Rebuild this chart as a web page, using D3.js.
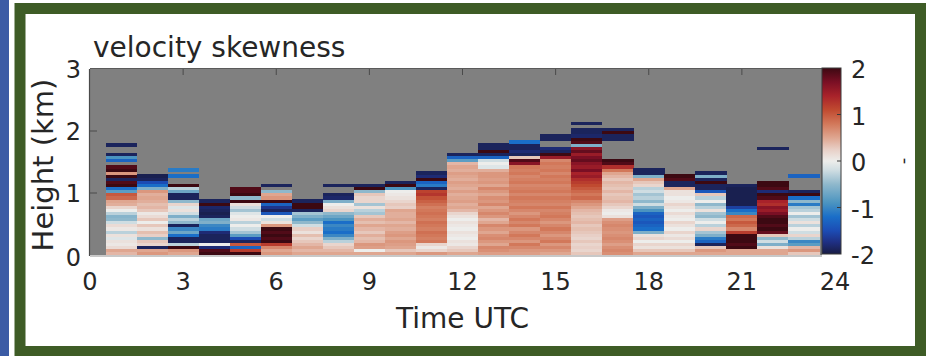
<!DOCTYPE html>
<html><head><meta charset="utf-8">
<script src="https://cdn.jsdelivr.net/npm/d3@7"></script>
<style>
html,body{margin:0;padding:0;background:#fff;}
svg{display:block;}
text{font-family:"DejaVu Sans",sans-serif;fill:#262626;}
</style></head>
<body>
<svg id="chart" width="926" height="356"></svg>
<script>
// ---- DATA ----
const title = "velocity skewness";
const xLabel = "Time UTC";
const yLabel = "Height (km)";
const xTicks = [0, 3, 6, 9, 12, 15, 18, 21, 24];
const yTicks = [0, 1, 2, 3];
const cbTicks = [-2, -1, 0, 1, 2];
const binKm = 0.05;            // height gate (km)
const hours = [1,2,3,4,5,6,7,8,9,10,11,12,13,14,15,16,17,18,19,20,21,22,23];
const _ = null;                // no data (gray)
// skewness per height gate, from the ground upward
const h01 = [0.4,0.5,0.15,0.05,0.1,-0.1,0.1,-0.3,0.05,0.15,-0.2,-0.5,-0.55,-0.3,0.0,0.2,0.45,0.5,0.9,1.0,-0.8,-1.2,2.0,1.9,-1.9,2.0,0.6,2.0,1.9,_,-1.3,-0.9,-1.9,_,_,-1.9];
const h02 = [0.6,0.5,-1.9,0.2,0.3,-0.5,0.25,0.35,0.1,0.3,0.0,0.3,0.15,0.05,0.3,0.4,0.35,0.45,0.5,0.45,0.6,-0.6,-1.2,-1.5,-1.9,-1.95];
const h03 = [0.5,0.6,2.0,-0.3,-1.9,-1.9,-1.2,-0.7,-1.0,-1.9,-0.5,-0.3,-0.6,-0.2,0.1,-0.1,0.2,-0.5,-1.9,-1.9,-0.7,-0.3,2.0,_,_,-1.2,_,-1.1];
const h04 = [2.0,1.9,-1.8,0.0,-1.9,-1.9,-1.9,-1.8,-1.1,-1.0,-0.6,-0.7,-1.9,-1.95,-1.9,-1.85,2.0,-1.9];
const h05 = [2.0,1.2,-1.3,1.0,-1.9,-1.5,-0.8,-0.4,-0.2,0.0,-0.3,0.05,0.0,-0.1,-0.4,-0.2,0.1,2.0,-0.5,2.0,1.9,1.9];
const h06 = [0.6,0.5,0.7,1.2,2.0,1.9,2.0,1.9,2.0,0.6,0.1,-0.2,0.0,-1.4,-1.9,-1.7,-1.3,2.0,0.6,0.5,-0.5,_,-1.9];
const h07 = [0.5,0.4,0.5,0.4,0.3,0.2,0.35,0.1,0.25,-0.2,-0.5,-0.8,-0.6,-0.4,-1.9,2.0,2.0,-1.9];
const h08 = [0.5,0.4,0.3,0.2,-0.3,-0.6,-1.0,-1.2,-1.1,-1.0,-1.2,-0.9,-0.7,-0.5,0.2,0.1,0.0,-0.6,-1.85,-1.9,_,_,-1.9];
const h09 = [0.5,0.0,0.55,0.6,0.4,0.35,0.45,0.3,0.4,0.5,0.35,0.45,0.3,-0.4,-0.3,0.1,-0.4,0.2,0.2,0.3,-0.5,2.0,-1.9];
const h10 = [0.5,0.3,0.5,0.55,0.6,0.5,0.6,0.55,0.45,0.5,0.4,0.5,0.45,0.45,0.5,0.25,0.3,0.2,0.1,0.05,0.0,-0.9,2.0,-1.9];
const h11 = [0.6,0.2,0.05,0.2,0.8,0.75,0.8,0.85,0.75,0.8,0.85,0.75,0.8,0.85,0.8,0.75,0.85,0.95,1.05,1.25,1.15,-1.9,-1.1,-1.3,2.0,-1.8,-1.9];
const h12 = [0.5,0.3,0.2,0.05,0.1,0.0,0.05,0.1,0.0,0.05,0.1,0.0,0.1,0.2,0.4,0.5,0.45,0.55,0.5,0.45,0.55,0.45,0.5,0.55,0.45,0.5,0.55,0.45,0.5,0.4,-0.8,-1.3,-1.9];
const h13 = [0.55,0.65,0.7,0.5,0.6,0.7,0.65,0.5,0.6,0.7,0.5,0.4,0.6,0.7,0.6,0.5,0.7,0.6,0.65,0.5,0.6,0.7,0.5,0.6,0.55,0.6,0.6,0.45,-0.1,0.0,-0.2,-1.3,-1.9,2.0,-1.9,-1.9];
const h14 = [0.55,0.6,0.7,0.8,0.6,0.7,0.8,0.7,0.6,0.8,0.7,0.8,0.7,0.6,0.7,0.8,0.7,0.75,0.8,0.7,0.8,0.75,0.7,0.8,0.75,0.7,0.8,0.75,0.8,1.6,1.9,0.3,-1.9,-1.8,-1.9,-1.9,-1.2];
const h15 = [0.5,0.6,0.7,0.6,0.8,0.7,0.6,0.7,0.8,0.7,0.6,0.7,0.8,0.75,0.7,0.8,0.7,0.75,0.8,0.7,0.8,0.75,0.7,0.8,0.75,0.8,0.7,0.8,0.75,0.8,0.7,1.5,2.0,-1.9,-1.8,_,_,-1.9,-1.9];
const h16 = [0.3,0.2,0.25,0.2,0.3,0.2,0.25,0.3,0.35,0.3,0.4,0.35,0.3,0.35,0.4,0.5,0.6,0.7,0.9,0.8,0.9,1.0,1.1,1.2,1.3,1.5,1.4,1.7,1.5,1.6,1.8,1.7,1.5,1.8,1.6,-0.6,1.9,2.0,-1.85,-1.9,-1.9,_,-1.9];
const h17 = [0.65,0.7,0.65,0.55,0.65,0.7,0.65,0.6,0.65,0.7,0.65,0.55,0.1,0.0,0.05,0.2,0.3,0.4,0.35,0.3,0.4,0.3,0.35,0.4,0.3,0.4,0.5,0.8,1.3,1.9,2.0,_,_,_,_,_,_,-1.9,-1.9,2.0,-1.9];
const h18 = [0.5,0.3,0.1,0.2,0.0,0.2,0.1,-0.6,-1.2,-1.3,-1.4,-1.3,-1.4,-1.3,-0.9,-0.6,-0.2,-0.5,-0.3,-0.4,-0.2,-0.3,0.2,0.3,0.5,-0.6,-1.9,-1.9];
const h19 = [0.5,0.3,0.1,0.2,0.0,0.15,0.05,0.2,0.0,0.1,0.2,0.0,0.05,0.15,0.0,0.1,0.2,0.05,0.0,0.1,0.1,0.5,-1.9,-1.9,1.9,2.0];
const h20 = [0.5,0.6,0.3,-1.9,-1.3,-1.1,-0.6,-0.4,0.2,-0.3,0.0,-0.2,-0.5,-0.4,0.1,-0.3,-0.5,0.0,-0.3,0.3,-1.4,-1.9,-1.9,2.0,-1.9,-0.6,-1.9];
const h21 = [0.5,0.5,2.0,1.9,2.0,2.0,2.0,1.2,0.7,0.9,1.0,0.8,0.9,-1.0,-1.2,-1.6,-1.95,-1.95,-1.95,-1.95,-1.95,-1.95,-1.9];
const h22 = [0.5,0.5,0.1,-0.6,-0.2,-0.5,0.3,1.8,2.0,1.9,2.0,2.0,1.9,1.7,1.5,1.6,1.3,1.4,1.9,2.0,-1.8,1.9,2.0,2.0,_,_,_,_,_,_,_,_,_,_,-1.9];
const h23 = [0.3,0.6,0.4,-0.8,-1.0,-0.3,0.2,-0.2,0.0,-0.3,0.1,-0.2,-0.4,0.0,-0.3,-0.4,-1.1,-0.5,-1.2,2.0,-1.9,_,_,_,_,-1.3];
const columns = [h01,h02,h03,h04,h05,h06,h07,h08,h09,h10,h11,h12,h13,h14,h15,h16,h17,h18,h19,h20,h21,h22,h23];

// ---- COLORMAP (diverging, balance-like) ----
const cmapStops  = [-2.0,-1.75,-1.5,-1.2,-0.9,-0.5,-0.2,0.0,0.25,0.5,0.8,1.1,1.4,1.7,2.0];
const cmapColors = ["#181c43","#1f2f82","#1c4cb4","#1a6ec8","#4b94c0","#8fb8cc","#cfdde2","#ededeb","#e8cfc6","#dfa690","#d2785a","#c04a30","#a8222a","#7a0f24","#3c0912"];
const color = d3.scaleLinear().domain(cmapStops).range(cmapColors).clamp(true);

// ---- LAYOUT ----
const svg = d3.select("#chart");
const W = 926, H = 356;
const plot = {left: 90, right: 835, top: 69, bottom: 255};
const cb = {left: 822, right: 841, top: 68, bottom: 254};

// frame
svg.append("rect").attr("x",0).attr("y",0).attr("width",9).attr("height",H).attr("fill","#3b5ba5");
svg.append("rect").attr("x",20).attr("y",8.5).attr("width",W-25.5).attr("height",H-13)
  .attr("fill","#fff").attr("stroke","#3e5c26").attr("stroke-width",11);

const x = d3.scaleLinear().domain([0,24]).range([plot.left, plot.right]);
const y = d3.scaleLinear().domain([0,3]).range([plot.bottom, plot.top]);

// gray axes background
svg.append("rect").attr("x",plot.left).attr("y",plot.top)
  .attr("width",cb.left - plot.left).attr("height",plot.bottom-plot.top)
  .attr("fill","#808080");

// cells
const cells = [];
columns.forEach((col, ci) => {
  col.forEach((v, bi) => {
    if (v === null) return;
    cells.push({h: hours[ci], z0: bi*binKm, z1: (bi+1)*binKm, v});
  });
});
svg.append("g").selectAll("rect").data(cells).join("rect")
  .attr("x", d => x(d.h-0.5))
  .attr("width", d => x(d.h+0.5) - x(d.h-0.5) + 0.3)
  .attr("y", d => y(d.z1))
  .attr("height", d => y(d.z0) - y(d.z1) + 0.3)
  .attr("fill", d => color(d.v))
  .attr("shape-rendering","crispEdges");

// axes
const fs = 24;
const ax = svg.append("g");
// top border with inward ticks
ax.append("line").attr("x1",plot.left).attr("x2",cb.left).attr("y1",plot.top-0.5).attr("y2",plot.top-0.5)
  .attr("stroke","#5a5a5a").attr("stroke-width",1);
ax.append("g").selectAll("line").data(xTicks.filter(t=>x(t)<cb.left-2 && t>0)).join("line")
  .attr("x1",d=>x(d)).attr("x2",d=>x(d)).attr("y1",plot.top).attr("y2",plot.top+6)
  .attr("stroke","#4a4a4a").attr("stroke-width",1);
// left border with inward ticks
ax.append("line").attr("x1",plot.left-0.5).attr("x2",plot.left-0.5).attr("y1",plot.top).attr("y2",plot.bottom+1)
  .attr("stroke","#4a4a4a").attr("stroke-width",1.2);
ax.append("g").selectAll("line").data(yTicks.filter(t=>t>0 && t<3)).join("line")
  .attr("x1",plot.left).attr("x2",plot.left+7).attr("y1",d=>y(d)).attr("y2",d=>y(d))
  .attr("stroke","#4a4a4a").attr("stroke-width",1);
// bottom border
ax.append("line").attr("x1",plot.left).attr("x2",cb.left).attr("y1",plot.bottom+1).attr("y2",plot.bottom+1)
  .attr("stroke","#c8c8c8").attr("stroke-width",2);

// tick labels
svg.append("g").selectAll("text").data(xTicks).join("text")
  .attr("x", d => x(d)).attr("y", 290)
  .attr("text-anchor","middle").attr("font-size",fs).text(d => d);
svg.append("g").selectAll("text").data(yTicks).join("text")
  .attr("x", 81).attr("y", d => y(d) + 9 + (d===0?2:0))
  .attr("text-anchor","end").attr("font-size",fs).text(d => d);

// axis titles
svg.append("text").attr("x", (x(0)+x(24))/2).attr("y", 328)
  .attr("text-anchor","middle").attr("font-size",28).text(xLabel);
svg.append("text").attr("transform","translate(53,165) rotate(-90)")
  .attr("text-anchor","middle").attr("font-size",29).text(yLabel);
svg.append("text").attr("x",93).attr("y",57).attr("font-size",28).text(title);

// colorbar
const defs = svg.append("defs");
const grad = defs.append("linearGradient").attr("id","cbgrad")
  .attr("x1","0").attr("y1","1").attr("x2","0").attr("y2","0");
cmapStops.forEach((s,i) => {
  grad.append("stop").attr("offset", (s+2)/4).attr("stop-color", cmapColors[i]);
});
const cy = d3.scaleLinear().domain([-2,2]).range([cb.bottom, cb.top]);
svg.append("rect").attr("x",cb.left).attr("y",cb.top).attr("width",cb.right-cb.left)
  .attr("height",cb.bottom-cb.top).attr("fill","url(#cbgrad)")
  .attr("stroke","#3a3a3a").attr("stroke-width",1);
svg.append("g").selectAll("line").data(cbTicks.filter(t=>t>-2 && t<2)).join("line")
  .attr("x1",cb.right-4).attr("x2",cb.right).attr("y1",d=>cy(d)).attr("y2",d=>cy(d))
  .attr("stroke","#3a3a3a");
svg.append("g").selectAll("text").data(cbTicks).join("text")
  .attr("x", 851).attr("y", d => cy(d) + 10)
  .attr("font-size",fs).text(d => d);
// tiny colorbar label
svg.append("text").attr("transform","translate(900,161) rotate(90)")
  .attr("text-anchor","middle").attr("font-size",18).text("-");
</script>
</body></html>
